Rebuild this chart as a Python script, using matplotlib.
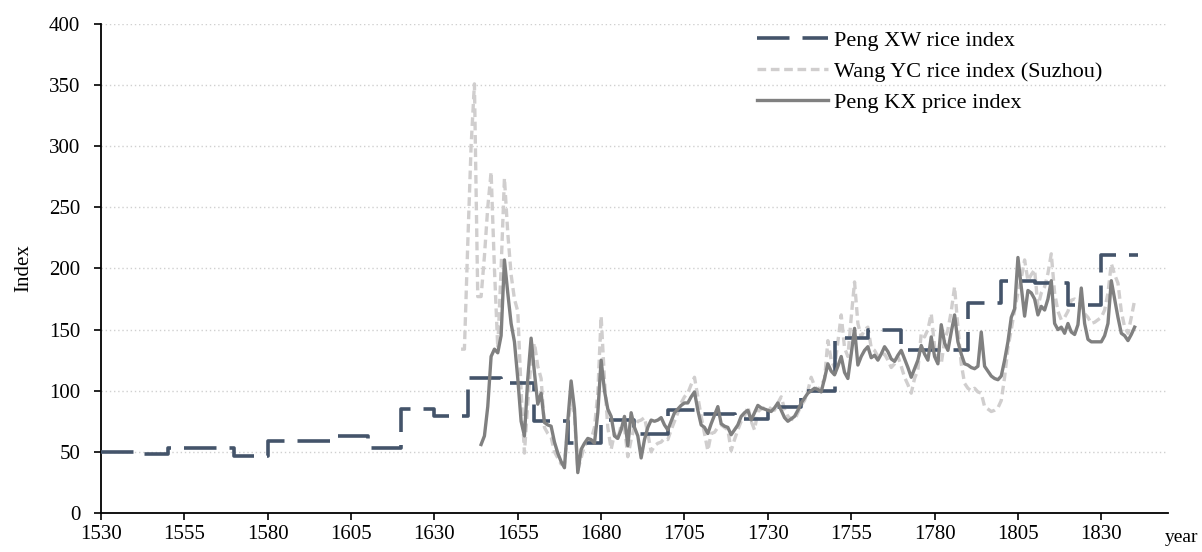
import matplotlib

matplotlib.use("Agg")
import matplotlib.pyplot as plt

# Peng XW rice index: one value per decade (step series)
xw_decades = [1530, 1540, 1550, 1560, 1570, 1580, 1590, 1600, 1610, 1620, 1630,
              1640, 1650, 1660, 1670, 1680, 1690, 1700, 1710, 1720, 1730, 1740,
              1750, 1760, 1770, 1780, 1790, 1800, 1810, 1820, 1830]
xw_values = [50, 48, 53, 53, 47, 59, 59, 63, 53, 85, 79,
             110, 106, 75, 57, 76, 65, 84, 81, 77, 87, 100,
             143, 150, 133, 133, 172, 190, 188, 170, 211]
xw_end = 1841

# Wang YC rice index (Suzhou), annual 1638-1840
wang_start = 1638
wang_values = [
    134, 134, 220, 300, 351, 177, 177, 210, 250, 279, 200, 135,  # 1638-1649
    200, 274, 229, 195, 175, 165, 100, 49, 90, 125,  # 1650-1659
    139, 120, 110, 70, 65, 62, 50, 45, 40, 40,  # 1660-1669
    70, 95, 80, 35, 45, 55, 58, 60, 70, 98,  # 1670-1679
    161, 109, 70, 52, 65, 60, 72, 70, 46, 60,  # 1680-1689
    71, 75, 76, 78, 65, 50, 55, 57, 58, 61,  # 1690-1699
    60, 68, 75, 82, 90, 95, 98, 105, 111, 95,  # 1700-1709
    79, 65, 51, 65, 66, 70, 72, 70, 68, 51,  # 1710-1719
    60, 68, 75, 79, 87, 75, 68, 83, 85, 86,  # 1720-1729
    87, 85, 84, 90, 95, 85, 79, 77, 76, 82,  # 1730-1739
    88, 92, 100, 111, 104, 100, 105, 109, 141, 125,  # 1740-1749
    119, 140, 162, 135, 128, 160, 189, 155, 144, 150,  # 1750-1759
    152, 135, 133, 128, 129, 130, 125, 119, 122, 128,  # 1760-1769
    120, 111, 105, 98, 110, 117, 147, 144, 150, 163,  # 1770-1779
    136, 125, 122, 141, 150, 165, 185, 152, 122, 106,  # 1780-1789
    102, 100, 102, 99, 98, 87, 85, 83, 84, 86,  # 1790-1799
    92, 111, 135, 150, 166, 180, 192, 207, 190, 195,  # 1800-1809
    199, 169, 180, 185, 196, 212, 180, 165, 158, 160,  # 1810-1819
    165, 174, 175, 173, 171, 163, 160, 155, 156, 158,  # 1820-1829
    160, 166, 180, 204, 195, 188, 165, 152, 147, 160,  # 1830-1839
    174,  # 1840
]

# Peng KX price index, annual 1644-1840
kx_start = 1644
kx_values = [
    56, 63, 87, 128, 134, 131,  # 1644-1649
    145, 207, 180, 155, 140, 110, 75, 63, 110, 143,  # 1650-1659
    115, 89, 98, 74, 72, 71, 58, 49, 42, 37,  # 1660-1669
    75, 108, 85, 33, 52, 57, 61, 60, 57, 82,  # 1670-1679
    125, 100, 85, 79, 63, 61, 68, 79, 55, 82,  # 1680-1689
    70, 63, 45, 60, 70, 76, 75, 76, 78, 72,  # 1690-1699
    68, 75, 82, 85, 88, 90, 90, 95, 99, 84,  # 1700-1709
    72, 70, 65, 73, 80, 87, 73, 71, 70, 64,  # 1710-1719
    68, 72, 79, 82, 84, 76, 82, 88, 86, 85,  # 1720-1729
    84, 83, 86, 90, 84, 78, 75, 77, 79, 84,  # 1730-1739
    90, 94, 98, 100, 102, 101, 99, 110, 122, 116,  # 1740-1749
    113, 120, 128, 115, 110, 130, 151, 121, 128, 133,  # 1750-1759
    136, 127, 129, 125, 130, 136, 132, 126, 124, 129,  # 1760-1769
    133, 126, 119, 111, 118, 125, 137, 130, 125, 144,  # 1770-1779
    128, 122, 154, 139, 133, 148, 162, 140, 130, 122,  # 1780-1789
    121, 119, 118, 120, 148, 120, 116, 112, 110, 109,  # 1790-1799
    112, 125, 140, 160, 167, 209, 185, 161, 182, 180,  # 1800-1809
    175, 162, 169, 166, 175, 190, 155, 150, 152, 147,  # 1810-1819
    155, 148, 146, 154, 184, 155, 142, 140, 140, 140,  # 1820-1829
    140, 145, 155, 190, 175, 160, 147, 145, 141, 146,  # 1830-1839
    152,  # 1840
]

x_ticks = list(range(1530, 1831, 25))
y_ticks = list(range(0, 401, 50))

wang_years = list(range(wang_start, wang_start + len(wang_values)))
kx_years = list(range(kx_start, kx_start + len(kx_values)))

plt.rcParams["font.family"] = ["Liberation Serif", "DejaVu Serif"]

fig = plt.figure(figsize=(12.02, 5.52), dpi=100)
ax = fig.add_axes([0.0840, 0.0707, 0.8877, 0.8859])

# dotted horizontal gridlines (not on the zero line)
for v in y_ticks[1:]:
    ax.axhline(v, color="#d0d0d0", lw=1.0, ls=(0, (1, 2)), zorder=0)

ax.plot(xw_decades + [xw_end], xw_values + [xw_values[-1]], drawstyle="steps-post",
        color="#44546a", lw=2.6, dashes=(9.0, 3.6), label="Peng XW rice index", zorder=3)
ax.plot(wang_years, wang_values, color="#d0cece", lw=2.4, dashes=(2.6, 1.4),
        label="Wang YC rice index (Suzhou)", zorder=2)
ax.plot(kx_years, kx_values, color="#808080", lw=2.4,
        label="Peng KX price index", zorder=4)

ax.set_xlim(1530, 1850)
ax.set_ylim(0, 400)
ax.set_xticks(x_ticks)
ax.set_yticks(y_ticks)
ax.tick_params(axis="both", direction="out", length=5, width=1.2, labelsize=15, color="black")
ax.tick_params(axis="x", pad=4)
ax.tick_params(axis="y", pad=10)

for side in ("top", "right"):
    ax.spines[side].set_visible(False)
for side in ("left", "bottom"):
    ax.spines[side].set_linewidth(1.3)
    ax.spines[side].set_color("black")

ax.set_ylabel("Index", fontsize=15, labelpad=11)
fig.text(1182 / 1202, 1 - 538 / 552, "year", fontsize=14, ha="center", va="center")

ax.legend(loc="upper left", bbox_to_anchor=(757 / 1202, 1 - 30 / 552),
          bbox_transform=fig.transFigure, frameon=False, fontsize=16,
          handlelength=3.2, handletextpad=0.25, labelspacing=0.47,
          borderpad=0, borderaxespad=0)

fig.savefig("out.png", dpi=100)
